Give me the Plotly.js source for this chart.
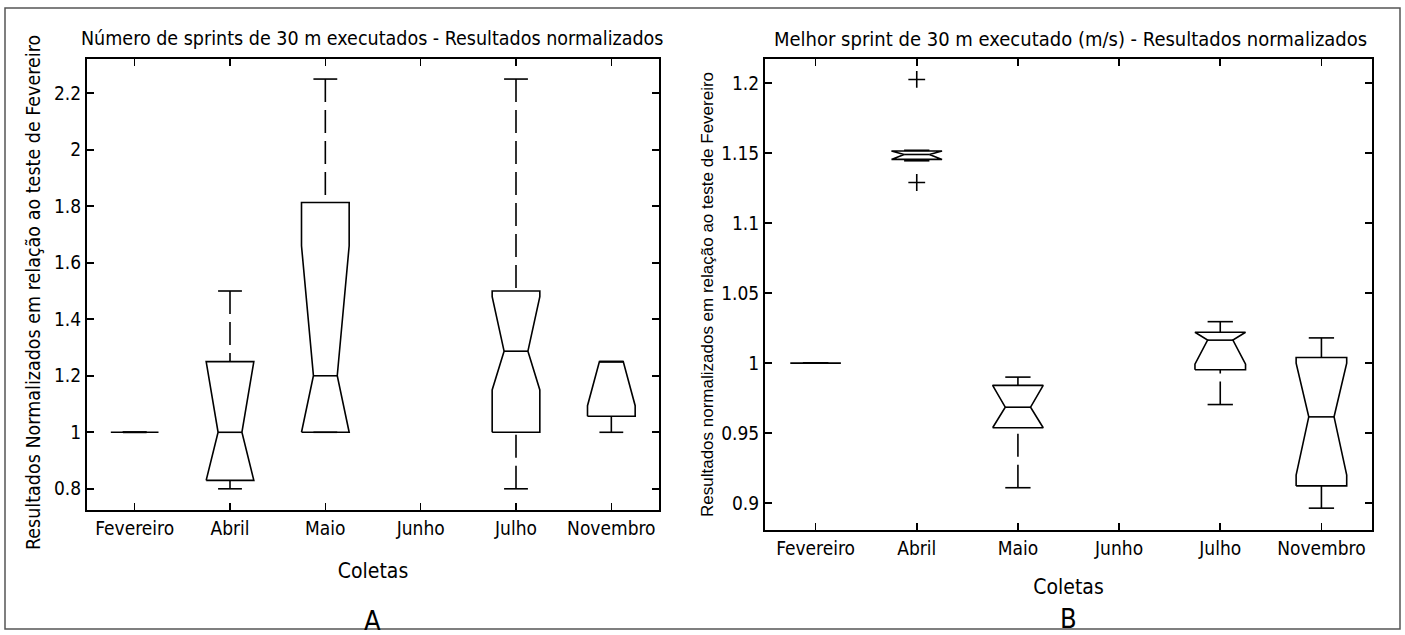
<!DOCTYPE html>
<html>
<head>
<meta charset="utf-8">
<script src="https://cdn.plot.ly/plotly-3.0.1.min.js"></script>
<style>
  html, body { margin: 0; padding: 0; background: #ffffff; }
  #chart { width: 1405px; height: 635px; }
</style>
</head>
<body>
<div id="chart"></div>
<script>
// ---------------- DATA ----------------
const categories = ["Fevereiro", "Abril", "Maio", "Junho", "Julho", "Novembro"];

// Panel A - Número de sprints de 30 m executados (normalizado)
const aLower   = [1.00, 0.80, 1.00, null, 0.80, 1.00];
const aQ1      = [1.00, 0.83, 1.00, null, 1.00, 1.057];
const aMedian  = [1.00, 1.00, 1.20, null, 1.287, 1.25];
const aQ3      = [1.00, 1.25, 1.813, null, 1.50, 1.25];
const aUpper   = [1.00, 1.50, 2.25, null, 2.25, 1.25];
const aNotchLo = [1.00, 0.83, 1.00, null, 1.15, 1.094];
const aNotchHi = [1.00, 1.25, 1.66, null, 1.48, 1.25];
const aOutliers = [[], [], [], [], [], []];

// Panel B - Melhor sprint de 30 m executado (m/s) (normalizado)
const bLower   = [1.00, 1.1445, 0.911, null, 0.9704, 0.8964];
const bQ1      = [1.00, 1.1455, 0.9538, null, 0.9953, 0.9123];
const bMedian  = [1.00, 1.149, 0.9685, null, 1.0164, 0.9616];
const bQ3      = [1.00, 1.1515, 0.9841, null, 1.022, 1.004];
const bUpper   = [1.00, 1.152, 0.990, null, 1.0296, 1.018];
const bNotchLo = [1.00, 1.1455, 0.9538, null, 0.9993, 0.920];
const bNotchHi = [1.00, 1.1515, 0.9841, null, 1.022, 1.000];
const bOutliers = [[], [1.2026, 1.129], [], [], [], []];

// ---------------- STYLE ----------------
const FONT = "Liberation Sans Narrow, Arial Narrow, DejaVu Sans Condensed, sans-serif";
const BOX_HALF = 0.25, NOTCH_HALF = 0.125, CAP_HALF = 0.125;
const LINE = {color: "#000000", width: 1.6};

function buildTraces(st, xa, ya) {
  const bx = [], by = [], mx = [], my = [], wx = [], wy = [], cx = [], cy = [], ox = [], oy = [];
  categories.forEach((c, i) => {
    if (st.q1[i] === null) return;
    const p = i + 1;
    const q1 = st.q1[i], q3 = st.q3[i], md = st.med[i], lo = st.lo[i], hi = st.hi[i];
    // left side, bottom -> top
    const L = [[p - BOX_HALF, q1], [p - BOX_HALF, lo], [p - NOTCH_HALF, md]];
    if (hi > md) L.push([p - BOX_HALF, hi], [p - BOX_HALF, q3]);
    const R = [[p + BOX_HALF, q1], [p + BOX_HALF, lo], [p + NOTCH_HALF, md]];
    if (hi > md) R.push([p + BOX_HALF, hi], [p + BOX_HALF, q3]);
    const poly = L.concat(R.reverse(), [L[0]]);
    poly.forEach(pt => { bx.push(pt[0]); by.push(pt[1]); });
    bx.push(null); by.push(null);
    mx.push(p - NOTCH_HALF, p + NOTCH_HALF, null);
    my.push(md, md, null);
    if (st.up[i] > q3) { wx.push(p, p, null); wy.push(st.up[i], q3, null); }
    if (st.low[i] < q1) { wx.push(p, p, null); wy.push(st.low[i], q1, null); }
    cx.push(p - CAP_HALF, p + CAP_HALF, null, p - CAP_HALF, p + CAP_HALF, null);
    cy.push(st.up[i], st.up[i], null, st.low[i], st.low[i], null);
    st.out[i].forEach(v => { ox.push(p); oy.push(v); });
  });
  const common = {xaxis: xa, yaxis: ya, hoverinfo: "skip", showlegend: false};
  return [
    Object.assign({type: "scatter", mode: "lines", x: wx, y: wy, line: {color: "#000", width: 1.6, dash: "23px,8px"}}, common),
    Object.assign({type: "scatter", mode: "lines", x: cx, y: cy, line: LINE}, common),
    Object.assign({type: "scatter", mode: "lines", x: bx, y: by, line: LINE}, common),
    Object.assign({type: "scatter", mode: "lines", x: mx, y: my, line: LINE}, common),
    Object.assign({type: "scatter", mode: "markers", x: ox, y: oy,
      marker: {symbol: "cross-thin", size: 12, color: "#000", line: {color: "#000", width: 1.6}}}, common)
  ];
}

const traces = [].concat(
  buildTraces({low: aLower, q1: aQ1, med: aMedian, q3: aQ3, up: aUpper, lo: aNotchLo, hi: aNotchHi, out: aOutliers}, "x", "y"),
  buildTraces({low: bLower, q1: bQ1, med: bMedian, q3: bQ3, up: bUpper, lo: bNotchLo, hi: bNotchHi, out: bOutliers}, "x2", "y2")
);

const W = 1405, H = 635;
const px = v => v / W, py = v => 1 - v / H;

function xAxis(domain, anchor, standoff) {
  return {
    domain: domain, anchor: anchor, range: [0.5, 6.5],
    tickmode: "array", tickvals: categories.map((c, i) => i + 1), ticktext: categories,
    ticks: "inside", ticklen: 7, tickwidth: 1.6, tickcolor: "#000",
    showline: true, linecolor: "#000", linewidth: 2, mirror: "ticks",
    showgrid: false, zeroline: false,
    tickfont: {family: FONT, size: 19, color: "#000"},
    title: {text: "Coletas", font: {family: FONT, size: 21, color: "#000"}, standoff: standoff}
  };
}
function yAxis(domain, anchor, range, dtick) {
  return {
    domain: domain, anchor: anchor, range: range, tick0: 0, dtick: dtick,
    ticks: "inside", ticklen: 7, tickwidth: 1.6, tickcolor: "#000",
    showline: true, linecolor: "#000", linewidth: 2, mirror: "ticks",
    showgrid: false, zeroline: false,
    tickfont: {family: FONT, size: 19, color: "#000"}
  };
}

const layout = {
  width: W, height: H,
  margin: {l: 0, r: 0, t: 0, b: 0},
  paper_bgcolor: "#fff", plot_bgcolor: "#fff",
  xaxis: xAxis([px(87), px(659)], "y", 26),
  yaxis: yAxis([py(510), py(59)], "x", [0.725, 2.321], 0.2),
  xaxis2: xAxis([px(765), px(1372)], "y2", 22),
  yaxis2: yAxis([py(530), py(59)], "x2", [0.8808, 1.2172], 0.05),
  annotations: [
    {text: "Número de sprints de 30 m executados - Resultados normalizados", xref: "paper", yref: "paper",
     x: px(372), y: py(38), xanchor: "center", yanchor: "middle", showarrow: false,
     font: {family: FONT, size: 19.5, color: "#000"}},
    {text: "Melhor sprint de 30 m executado (m/s) - Resultados normalizados", xref: "paper", yref: "paper",
     x: px(1070), y: py(39), xanchor: "center", yanchor: "middle", showarrow: false,
     font: {family: FONT, size: 20, color: "#000"}},
    {text: "Resultados Normalizados em relação ao teste de Fevereiro", xref: "paper", yref: "paper",
     x: px(33), y: py(293), xanchor: "center", yanchor: "middle", textangle: -90, showarrow: false,
     font: {family: FONT, size: 19.5, color: "#000"}},
    {text: "Resultados normalizados em relação ao teste de Fevereiro", xref: "paper", yref: "paper",
     x: px(707), y: py(295), xanchor: "center", yanchor: "middle", textangle: -90, showarrow: false,
     font: {family: "Liberation Sans, Arial, sans-serif", size: 17, color: "#000"}},
    {text: "A", xref: "paper", yref: "paper", x: px(372), y: py(620), xanchor: "center", yanchor: "middle",
     showarrow: false, font: {family: FONT, size: 27, color: "#000"}},
    {text: "B", xref: "paper", yref: "paper", x: px(1068), y: py(618), xanchor: "center", yanchor: "middle",
     showarrow: false, font: {family: FONT, size: 27, color: "#000"}}
  ],
  shapes: [
    {type: "rect", xref: "paper", yref: "paper", x0: px(5), x1: px(1400), y0: py(629), y1: py(8),
     line: {color: "#555", width: 1.5}, fillcolor: "rgba(0,0,0,0)"}
  ]
};

Plotly.newPlot("chart", traces, layout, {staticPlot: true, displayModeBar: false});
</script>
</body>
</html>
